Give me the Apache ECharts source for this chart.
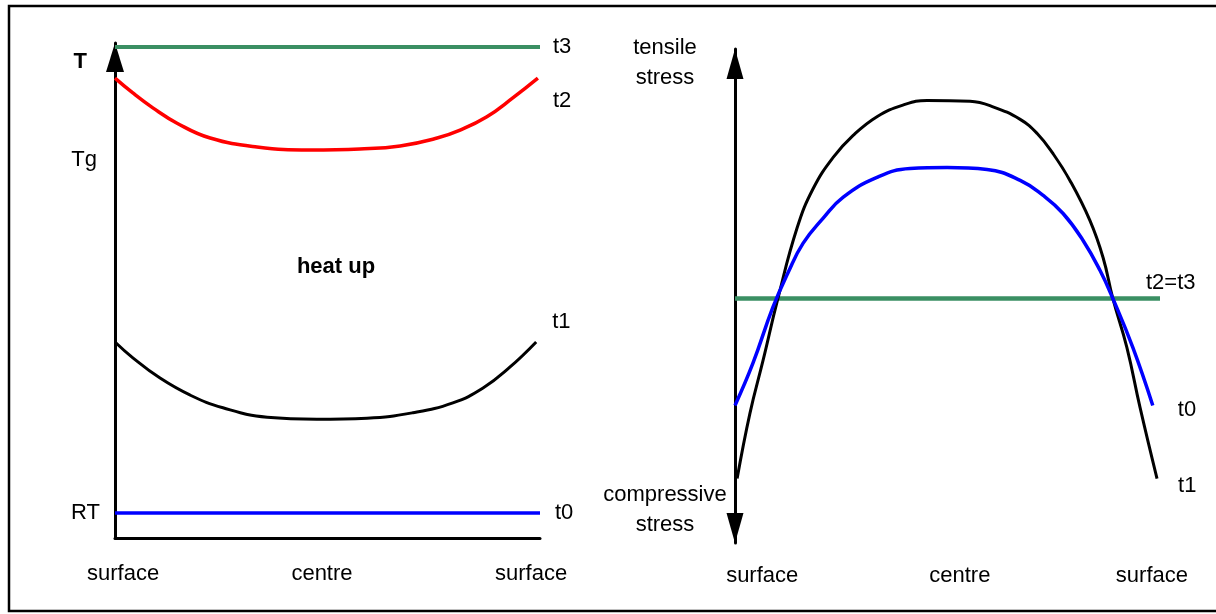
<!DOCTYPE html>
<html><head><meta charset="utf-8">
<script src="https://cdn.jsdelivr.net/npm/echarts@6/dist/echarts.min.js"></script>
<style>html,body{margin:0;padding:0;background:#fff}#c{width:1216px;height:614px}</style>
</head><body><div id="c"></div>
<script>
const FONT = '"Liberation Sans", Arial, sans-serif';

// ---- Left panel: temperature across the section during heat up (x: 0 = surface, 0.5 = centre, 1 = surface)
const tempT0 = [[0, 5.05], [1, 5.05]];
const tempT1 = [[0, 39.6], [0.042, 36.4], [0.106, 32.3], [0.176, 28.9], [0.254, 26.3], [0.358, 24.4], [0.475, 24.0], [0.593, 24.2], [0.701, 25.3], [0.795, 27.3], [0.866, 30.3], [0.929, 34.5], [0.991, 39.6]];
const tempT2 = [[0, 92.9], [0.042, 89.9], [0.089, 86.9], [0.146, 83.8], [0.224, 80.8], [0.334, 79.0], [0.459, 78.4], [0.576, 78.6], [0.671, 79.2], [0.758, 80.8], [0.812, 82.4], [0.875, 85.1], [0.936, 88.9], [0.995, 92.9]];
const tempT3 = [[0, 99.2], [1, 99.2]];
const tempTickValues = [5.05, 76.4, 96.2];
const tempTickLabels = ['RT', 'Tg', 'T'];

// ---- Right panel: stress across the section
const stressT0 = [[0, -43.3], [0.042, -26.3], [0.089, -3.6], [0.125, 10.5], [0.160, 22.3], [0.207, 32.4], [0.254, 40.9], [0.334, 49.0], [0.412, 52.6], [0.499, 53.0], [0.593, 52.2], [0.671, 47.8], [0.725, 41.7], [0.772, 34.4], [0.819, 23.5], [0.859, 11.3], [0.889, 0], [0.936, -19.8], [0.983, -43.3]];
const stressT1 = [[0.005, -72.9], [0.035, -46.6], [0.066, -25.1], [0.101, 0], [0.146, 28.5], [0.184, 44.5], [0.231, 57.1], [0.278, 66.0], [0.334, 73.6], [0.395, 78.3], [0.452, 80.2], [0.553, 79.8], [0.607, 77.6], [0.671, 72.5], [0.711, 66.8], [0.748, 58.7], [0.788, 47.8], [0.835, 31.6], [0.866, 16.6], [0.889, 0], [0.922, -19.8], [0.953, -44.1], [0.993, -72.9]];
const stressT23 = [[0, 0], [1, 0]];
const stressTickValues = [95.3, -85.6];
const stressTickLabels = ['tensile\nstress', 'compressive\nstress'];

// ---- Position tick labels
const posTickValuesLeft = [0.019, 0.487, 0.979];
const posTickValuesRight = [0.064, 0.529, 0.981];
const posTickLabels = ['surface', 'centre', 'surface'];

const annotationText = 'heat up';
const annotationPos = [0.52, 54.7];

const GREEN = '#3a8f63';
const txt = {fontFamily: FONT, fontSize: 22, color: '#000'};

function nearestLabel(values, labels, v) {
  let best = 0;
  for (let i = 1; i < values.length; i++) if (Math.abs(values[i] - v) < Math.abs(values[best] - v)) best = i;
  return labels[best];
}

function lineSeries(name, data, color, width, xi, yi, label) {
  return {
    type: 'line', name: name, data: data, xAxisIndex: xi, yAxisIndex: yi,
    showSymbol: false, smooth: 0.45, animation: false, silent: true,
    lineStyle: {color: color, width: width},
    endLabel: Object.assign({show: true, formatter: name, distance: 0}, txt, label)
  };
}

const chart = echarts.init(document.getElementById('c'), null, {renderer: 'canvas'});
const axisLineStyle = {color: '#000', width: 3};

chart.setOption({
  animation: false,
  backgroundColor: '#fff',
  grid: [
    {left: 115, top: 43, width: 425, height: 495},
    {left: 735, top: 49, width: 425, height: 494}
  ],
  xAxis: [
    {type: 'value', gridIndex: 0, min: 0, max: 1,
     axisLine: {show: true, lineStyle: axisLineStyle}, axisTick: {show: false}, splitLine: {show: false},
     axisLabel: Object.assign({customValues: posTickValuesLeft, margin: 25,
       formatter: v => nearestLabel(posTickValuesLeft, posTickLabels, v)}, txt)},
    {type: 'value', gridIndex: 1, min: 0, max: 1,
     axisLine: {show: false, onZero: false}, axisTick: {show: false}, splitLine: {show: false},
     axisLabel: Object.assign({customValues: posTickValuesRight, margin: 22,
       formatter: v => nearestLabel(posTickValuesRight, posTickLabels, v)}, txt)}
  ],
  yAxis: [
    {type: 'value', gridIndex: 0, min: 0, max: 100,
     axisLine: {show: true, lineStyle: axisLineStyle, symbol: ['none', 'triangle'], symbolSize: [18, 29], symbolOffset: [0, -14.5]},
     axisTick: {show: false}, splitLine: {show: false},
     axisLabel: Object.assign({customValues: tempTickValues, margin: 15,
       formatter: v => {
         const l = nearestLabel(tempTickValues, tempTickLabels, v);
         if (l === 'T') return '{t|T}';
         if (l === 'Tg') return '{g|Tg}';
         return l;
       },
       rich: {
         t: {fontFamily: FONT, fontSize: 22, fontWeight: 'bold', color: '#000', padding: [0, 13, 0, 0]},
         g: {fontFamily: FONT, fontSize: 22, color: '#000', padding: [0, 3, 0, 0]}
       }}, txt)},
    {type: 'value', gridIndex: 1, min: -99, max: 101,
     axisLine: {show: true, onZero: false, lineStyle: axisLineStyle, symbol: ['triangle', 'triangle'], symbolSize: [17, 30], symbolOffset: [15, -15]},
     axisTick: {show: false}, splitLine: {show: false},
     axisLabel: Object.assign({customValues: stressTickValues, margin: 70, align: 'center', lineHeight: 30,
       formatter: v => nearestLabel(stressTickValues, stressTickLabels, v)}, txt)}
  ],
  series: [
    lineSeries('t3', tempT3, GREEN, 4, 0, 0, {offset: [13, 0]}),
    lineSeries('t2', tempT2, '#ff0000', 3.5, 0, 0, {offset: [15, 23]}),
    lineSeries('t1', tempT1, '#000000', 3, 0, 0, {offset: [16, -20]}),
    lineSeries('t0', tempT0, '#0000ff', 3.5, 0, 0, {offset: [15, 0]}),
    lineSeries('t2=t3', stressT23, GREEN, 4.5, 1, 1, {offset: [-14, -16]}),
    lineSeries('t1', stressT1, '#000000', 3, 1, 1, {offset: [21, 7]}),
    lineSeries('t0', stressT0, '#0000ff', 3.5, 1, 1, {offset: [25, 5]})
  ]
});

const hp = chart.convertToPixel({gridIndex: 0}, annotationPos);
chart.setOption({
  graphic: [
    {type: 'rect', silent: true, shape: {x: 9, y: 6, width: 1240, height: 605},
     style: {fill: null, stroke: '#000', lineWidth: 2.5}},
    {type: 'text', silent: true, x: hp[0], y: hp[1],
     style: {text: annotationText, font: 'bold 22px ' + FONT, fill: '#000', align: 'center', verticalAlign: 'middle'}}
  ]
});
</script>
</body></html>
